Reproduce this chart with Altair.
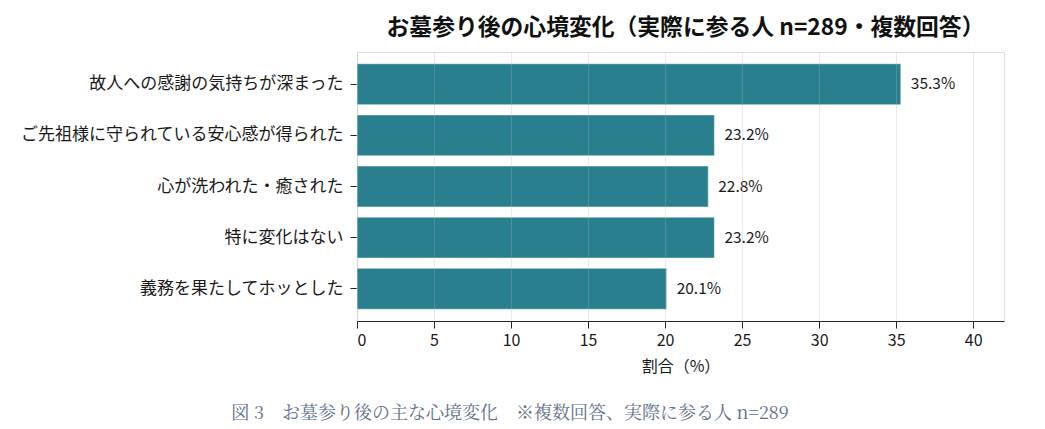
import altair as alt
import pandas as pd

categories = [
    "故人への感謝の気持ちが深まった",
    "ご先祖様に守られている安心感が得られた",
    "心が洗われた・癒された",
    "特に変化はない",
    "義務を果たしてホッとした",
]
values = [35.3, 23.2, 22.8, 23.2, 20.1]
labels = ["35.3%", "23.2%", "22.8%", "23.2%", "20.1%"]
x_ticks = [0, 5, 10, 15, 20, 25, 30, 35, 40]

title_text = "お墓参り後の心境変化（実際に参る人 n=289・複数回答）"
caption_text = "図 3　お墓参り後の主な心境変化　※複数回答、実際に参る人 n=289"

df = pd.DataFrame({"cat": categories, "val": values, "lab": labels})

FONT = "Noto Sans CJK JP"
BAR = "#2a7f8e"

y_enc = alt.Y(
    "cat:N",
    sort=categories,
    title=None,
    scale=alt.Scale(paddingInner=0.2, paddingOuter=0.23),
    axis=alt.Axis(
        domain=False,
        ticks=True,
        tickSize=7,
        tickColor="#222222",
        labelPadding=7,
        labelFontSize=17,
        labelLimit=0,
        labelColor="#1a1a1a",
        labelFont=FONT,
        grid=False,
    ),
)

x_enc = alt.X(
    "val:Q",
    title="割合（%）",
    scale=alt.Scale(domain=[0, 42], nice=False),
    axis=alt.Axis(
        values=x_ticks,
        format="d",
        grid=True,
        gridColor="#b5b5b5",
        gridOpacity=0.28,
        domain=True,
        domainColor="#222222",
        tickColor="#222222",
        tickSize=7,
        labelFontSize=16,
        labelFont=FONT,
        labelColor="#1a1a1a",
        labelPadding=4,
        titleFontSize=16,
        titleFont=FONT,
        titleFontWeight="normal",
        titleColor="#1a1a1a",
        titlePadding=10,
        zindex=1,
    ),
)

bars = alt.Chart(df).mark_bar(
    color=BAR, stroke="#ffffff", strokeWidth=0.8, strokeOpacity=0.6
).encode(x=x_enc, y=y_enc)

text = alt.Chart(df).mark_text(
    align="left", baseline="middle", dx=10, fontSize=15.5, font=FONT, color="#1a1a1a"
).encode(x="val:Q", y=alt.Y("cat:N", sort=categories), text="lab:N")

inner = alt.layer(bars, text).properties(
    width=647,
    height=269,
    title=alt.TitleParams(
        title_text,
        font=FONT,
        fontSize=22.8,
        fontWeight="bold",
        color="#111111",
        anchor="middle",
        offset=12,
        dx=5,
    ),
)

chart = alt.vconcat(inner).properties(
    title=alt.TitleParams(
        caption_text,
        orient="bottom",
        anchor="middle",
        font="Noto Serif CJK JP, Liberation Serif, serif",
        fontSize=18,
        fontWeight="normal",
        color="#607089",
        offset=30,
        dx=-2,
    )
).configure_view(strokeWidth=0).configure(padding={"left": 11, "right": 5, "top": 8, "bottom": 3})

chart.save("out.html", embed_options={"renderer": "svg", "actions": False})
